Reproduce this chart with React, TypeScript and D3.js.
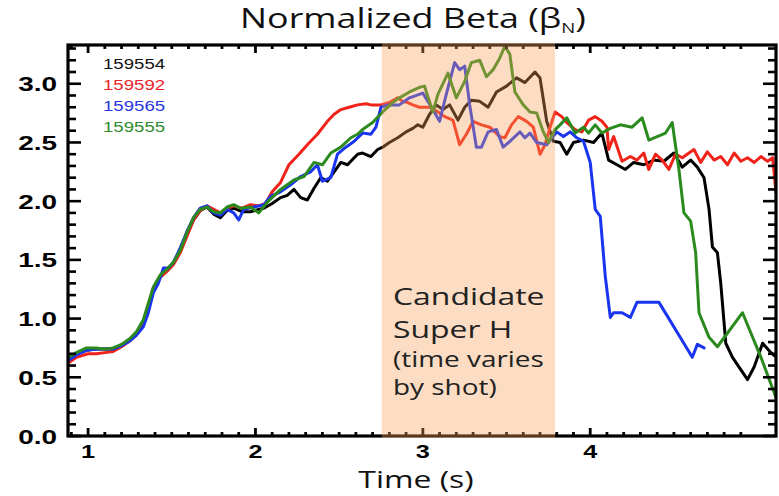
import React from 'react';
import * as d3 from 'd3';

// ---------- data ----------
const shotNames = ['159554', '159592', '159565', '159555'];
const shotColors = ['#000000', '#f0231a', '#1a35f0', '#2a8a1e'];
const legendColors = ['#111111', '#e8262a', '#2535e0', '#2e8a2e'];

const t159554 = [0.88, 0.93, 0.99, 1.05, 1.10, 1.15, 1.20, 1.25, 1.29, 1.33, 1.36, 1.39, 1.43, 1.47, 1.51, 1.55, 1.59, 1.63, 1.67, 1.71, 1.75, 1.79, 1.83, 1.87, 1.92, 1.97, 2.02, 2.05, 2.10, 2.15, 2.19, 2.23, 2.27, 2.31, 2.35, 2.39, 2.43, 2.47, 2.51, 2.55, 2.61, 2.64, 2.69, 2.73, 2.76, 2.80, 2.85, 2.90, 2.94, 2.97, 3.00, 3.04, 3.08, 3.12, 3.16, 3.21, 3.25, 3.29, 3.34, 3.39, 3.44, 3.50, 3.56, 3.61, 3.67, 3.70, 3.74, 3.78, 3.82, 3.86, 3.90, 3.96, 4.02, 4.07, 4.11, 4.16, 4.21, 4.26, 4.32, 4.38, 4.44, 4.50, 4.55, 4.60, 4.64, 4.68, 4.71, 4.73, 4.76, 4.78, 4.81, 4.85, 4.94, 4.98, 5.03, 5.08, 5.12];
const v159554 = [0.65, 0.70, 0.73, 0.74, 0.74, 0.74, 0.77, 0.82, 0.87, 0.97, 1.10, 1.25, 1.35, 1.41, 1.47, 1.57, 1.71, 1.84, 1.92, 1.95, 1.89, 1.86, 1.92, 1.94, 1.91, 1.91, 1.93, 1.94, 1.98, 2.03, 2.05, 2.10, 2.03, 2.01, 2.11, 2.20, 2.17, 2.25, 2.33, 2.31, 2.40, 2.41, 2.38, 2.44, 2.46, 2.50, 2.54, 2.59, 2.62, 2.65, 2.63, 2.74, 2.82, 2.78, 2.82, 2.69, 2.80, 2.86, 2.85, 2.80, 2.93, 2.98, 3.05, 3.01, 3.10, 3.05, 2.68, 2.51, 2.50, 2.40, 2.50, 2.52, 2.50, 2.58, 2.35, 2.31, 2.27, 2.33, 2.31, 2.35, 2.34, 2.41, 2.29, 2.35, 2.29, 2.20, 1.93, 1.61, 1.56, 1.30, 0.79, 0.67, 0.48, 0.59, 0.79, 0.71, 0.66];

const t159592 = [0.88, 0.93, 1.00, 1.05, 1.10, 1.15, 1.20, 1.25, 1.29, 1.33, 1.36, 1.39, 1.43, 1.47, 1.51, 1.55, 1.59, 1.63, 1.67, 1.71, 1.75, 1.79, 1.83, 1.87, 1.92, 1.97, 2.02, 2.06, 2.10, 2.15, 2.20, 2.26, 2.31, 2.37, 2.43, 2.47, 2.51, 2.56, 2.61, 2.66, 2.69, 2.75, 2.80, 2.85, 2.88, 2.91, 2.94, 2.98, 3.04, 3.09, 3.13, 3.18, 3.22, 3.26, 3.30, 3.35, 3.40, 3.43, 3.46, 3.49, 3.53, 3.57, 3.62, 3.66, 3.70, 3.73, 3.76, 3.79, 3.83, 3.86, 3.91, 3.95, 3.99, 4.03, 4.07, 4.10, 4.11, 4.14, 4.19, 4.24, 4.28, 4.32, 4.35, 4.39, 4.43, 4.47, 4.51, 4.55, 4.59, 4.62, 4.66, 4.70, 4.74, 4.78, 4.82, 4.86, 4.90, 4.94, 4.98, 5.02, 5.06, 5.09, 5.11];
const v159592 = [0.62, 0.67, 0.70, 0.70, 0.71, 0.72, 0.76, 0.81, 0.87, 0.97, 1.12, 1.26, 1.35, 1.40, 1.46, 1.56, 1.70, 1.84, 1.92, 1.96, 1.93, 1.90, 1.94, 1.96, 1.94, 1.97, 1.96, 1.98, 2.08, 2.16, 2.31, 2.40, 2.48, 2.57, 2.68, 2.74, 2.78, 2.80, 2.82, 2.83, 2.82, 2.82, 2.84, 2.88, 2.85, 2.84, 2.82, 2.80, 2.80, 2.76, 2.72, 2.69, 2.48, 2.57, 2.68, 2.65, 2.63, 2.59, 2.55, 2.54, 2.65, 2.72, 2.68, 2.63, 2.40, 2.48, 2.63, 2.76, 2.72, 2.67, 2.61, 2.59, 2.69, 2.72, 2.68, 2.63, 2.44, 2.55, 2.34, 2.38, 2.35, 2.41, 2.27, 2.40, 2.35, 2.27, 2.40, 2.37, 2.41, 2.44, 2.33, 2.42, 2.35, 2.38, 2.31, 2.41, 2.34, 2.37, 2.33, 2.38, 2.34, 2.37, 2.07];

const t159565 = [0.88, 0.93, 0.99, 1.05, 1.10, 1.15, 1.20, 1.25, 1.29, 1.33, 1.36, 1.39, 1.42, 1.45, 1.48, 1.51, 1.55, 1.59, 1.63, 1.67, 1.71, 1.75, 1.79, 1.83, 1.87, 1.90, 1.93, 1.99, 2.05, 2.09, 2.15, 2.21, 2.27, 2.33, 2.37, 2.40, 2.45, 2.49, 2.54, 2.59, 2.64, 2.69, 2.72, 2.75, 2.79, 2.86, 2.92, 3.00, 3.06, 3.10, 3.14, 3.19, 3.22, 3.25, 3.28, 3.32, 3.35, 3.39, 3.44, 3.48, 3.52, 3.58, 3.61, 3.64, 3.68, 3.74, 3.80, 3.84, 3.88, 3.92, 3.96, 4.00, 4.03, 4.06, 4.09, 4.12, 4.14, 4.19, 4.24, 4.28, 4.41, 4.61, 4.64, 4.68];
const v159565 = [0.64, 0.69, 0.73, 0.74, 0.74, 0.74, 0.77, 0.81, 0.86, 0.93, 1.05, 1.22, 1.30, 1.43, 1.43, 1.48, 1.60, 1.74, 1.86, 1.94, 1.96, 1.90, 1.88, 1.93, 1.90, 1.84, 1.93, 1.95, 1.97, 2.04, 2.08, 2.14, 2.21, 2.25, 2.31, 2.17, 2.20, 2.40, 2.46, 2.51, 2.58, 2.57, 2.63, 2.80, 2.82, 2.82, 2.88, 2.92, 2.78, 2.68, 2.91, 3.18, 3.12, 3.15, 2.82, 2.46, 2.46, 2.59, 2.61, 2.46, 2.51, 2.59, 2.54, 2.58, 2.50, 2.48, 2.59, 2.55, 2.59, 2.54, 2.51, 2.33, 1.93, 1.87, 1.36, 1.01, 1.05, 1.05, 1.01, 1.14, 1.14, 0.67, 0.78, 0.75];

const t159555 = [0.88, 0.93, 0.99, 1.05, 1.10, 1.15, 1.20, 1.25, 1.29, 1.33, 1.36, 1.39, 1.43, 1.47, 1.51, 1.55, 1.59, 1.63, 1.67, 1.71, 1.75, 1.79, 1.83, 1.87, 1.91, 1.97, 2.02, 2.07, 2.15, 2.23, 2.29, 2.35, 2.40, 2.45, 2.51, 2.57, 2.61, 2.64, 2.70, 2.76, 2.82, 2.86, 2.92, 2.98, 3.01, 3.06, 3.09, 3.15, 3.20, 3.25, 3.29, 3.34, 3.38, 3.42, 3.46, 3.49, 3.52, 3.55, 3.60, 3.64, 3.68, 3.72, 3.75, 3.79, 3.82, 3.86, 3.91, 3.96, 3.99, 4.03, 4.07, 4.12, 4.18, 4.25, 4.31, 4.35, 4.40, 4.45, 4.49, 4.53, 4.56, 4.60, 4.63, 4.65, 4.71, 4.76, 4.91, 5.02, 5.12];
const v159555 = [0.67, 0.71, 0.75, 0.75, 0.74, 0.75, 0.78, 0.83, 0.89, 0.99, 1.13, 1.27, 1.37, 1.42, 1.48, 1.58, 1.73, 1.86, 1.93, 1.95, 1.91, 1.90, 1.95, 1.97, 1.94, 1.95, 1.90, 1.99, 2.10, 2.18, 2.21, 2.33, 2.31, 2.41, 2.46, 2.54, 2.57, 2.61, 2.67, 2.76, 2.84, 2.88, 2.93, 2.97, 2.98, 2.76, 2.91, 3.09, 2.88, 3.02, 3.18, 3.20, 3.06, 3.12, 3.22, 3.32, 3.25, 2.93, 2.82, 2.76, 2.75, 2.59, 2.50, 2.61, 2.65, 2.71, 2.58, 2.63, 2.58, 2.65, 2.58, 2.62, 2.65, 2.63, 2.71, 2.52, 2.55, 2.58, 2.67, 2.27, 1.90, 1.83, 1.56, 1.05, 0.84, 0.76, 1.05, 0.67, 0.29];

const shotTimes = [t159554, t159592, t159565, t159555];
const shotValues = [v159554, v159592, v159565, v159555];

const yTickValues = [0, 0.5, 1.0, 1.5, 2.0, 2.5, 3.0];
const yTickLabels = ['0.0', '0.5', '1.0', '1.5', '2.0', '2.5', '3.0'];
const xTickValues = [1, 2, 3, 4];
const xTickLabels = ['1', '2', '3', '4'];
const superHWindow = [2.755, 3.79];
const noteLines = ['Candidate', 'Super H', '(time varies', 'by shot)'];

// ---------- layout ----------
const W = 779;
const H = 496;
const L = 68;
const R = 776;
const T = 45;
const B = 436;
const SX = 1.33; // horizontal stretch of the original picture's text

function SText(props: any) {
  const { x, y, anchor = 'start', size, weight = 'normal', family, fill = '#000', children } = props;
  return (
    <g transform={`translate(${x},${y}) scale(${SX},1)`}>
      <text textAnchor={anchor} fontSize={size} fontWeight={weight} fontFamily={family} fill={fill}>
        {children}
      </text>
    </g>
  );
}

export default function App() {
  const x = d3.scaleLinear().domain([0.88, 5.11]).range([L, R]);
  const y = d3.scaleLinear().domain([0, 3.33]).range([B, T]);

  const lineGen = d3
    .line<[number, number]>()
    .x((d) => x(d[0]))
    .y((d) => y(d[1]));

  const paths = shotTimes.map((ts, k) => {
    const pts: [number, number][] = ts.map((t, i) => [t, shotValues[k][i]]);
    return lineGen(pts) as string;
  });

  const yMinor = d3.range(0, 34).map((i) => i / 10).filter((v) => v <= 3.31);
  const xMinor = d3.range(9, 50).map((i) => i / 10);

  const sw = 3.2;
  const tickLabelFont = '"Liberation Sans", Arial, sans-serif';
  const textFont = '"Open Sans", "Noto Sans", sans-serif';

  return (
    <svg width={W} height={H} style={{ position: 'absolute', left: 0, top: 0, background: '#fff' }}>
      <defs>
        <clipPath id="plotClip">
          <rect x={L} y={T} width={R - L} height={B - T} />
        </clipPath>
      </defs>
      <rect x={0} y={0} width={W} height={H} fill="#fff" />

      {/* lines */}
      <g clipPath="url(#plotClip)">
        {paths.map((p, k) => (
          <path key={k} d={p} fill="none" stroke={shotColors[k]} strokeWidth={3} strokeLinejoin="round" strokeLinecap="round" />
        ))}
      </g>

      {/* axes frame and ticks */}
      <g stroke="#000">
        <rect x={L} y={T} width={R - L} height={B - T} fill="none" strokeWidth={sw} />
        {yMinor.map((v, i) => {
          const major = Math.abs(v * 2 - Math.round(v * 2)) < 1e-6;
          const len = major ? 13 : 8;
          return (
            <g key={'y' + i} strokeWidth={2.6}>
              <line x1={L} x2={L + len} y1={y(v)} y2={y(v)} />
              <line x1={R} x2={R - len} y1={y(v)} y2={y(v)} />
            </g>
          );
        })}
        {xMinor.map((t, i) => {
          const major = Math.abs(t - Math.round(t)) < 1e-6;
          const len = major ? 8 : 4;
          return (
            <g key={'x' + i} strokeWidth={2.8}>
              <line x1={x(t)} x2={x(t)} y1={B} y2={B - len} />
              <line x1={x(t)} x2={x(t)} y1={T} y2={T + len} />
            </g>
          );
        })}
      </g>

      {/* shaded candidate Super H window, drawn translucent on top */}
      <rect
        x={x(superHWindow[0])}
        y={T - 2}
        width={x(superHWindow[1]) - x(superHWindow[0])}
        height={B - T + 4}
        fill="#f6a05a"
        fillOpacity={0.36}
      />

      {/* y tick labels */}
      {yTickValues.map((v, i) => (
        <SText key={'yl' + i} x={57} y={y(v) + 7.5} anchor="end" size={21} weight="bold" family={tickLabelFont}>
          {yTickLabels[i]}
        </SText>
      ))}
      {/* x tick labels */}
      {xTickValues.map((t, i) => (
        <SText key={'xl' + i} x={x(t)} y={458} anchor="middle" size={19} weight="bold" family={tickLabelFont}>
          {xTickLabels[i]}
        </SText>
      ))}

      {/* title */}
      <g transform={`translate(413,28) scale(${SX},1)`}>
        <text textAnchor="middle" fontSize={27} fontFamily={textFont} fill="#111">
          Normalized Beta (β
          <tspan fontSize={14} dy={5}>N</tspan>
          <tspan dy={-5}>)</tspan>
        </text>
      </g>

      {/* x axis title */}
      <SText x={416} y={488} anchor="middle" size={24} family={textFont} fill="#111">
        Time (s)
      </SText>

      {/* legend */}
      {shotNames.map((n, i) => (
        <SText key={'lg' + i} x={103} y={64 + i * 21 + 5} size={14} family={tickLabelFont} fill={legendColors[i]}>
          {n}
        </SText>
      ))}

      {/* annotation */}
      {noteLines.map((s, i) => (
        <SText
          key={'n' + i}
          x={393}
          y={[305, 338, 367, 395][i]}
          size={i < 2 ? 24 : 21}
          family={textFont}
          fill="#222"
        >
          {s}
        </SText>
      ))}
    </svg>
  );
}
